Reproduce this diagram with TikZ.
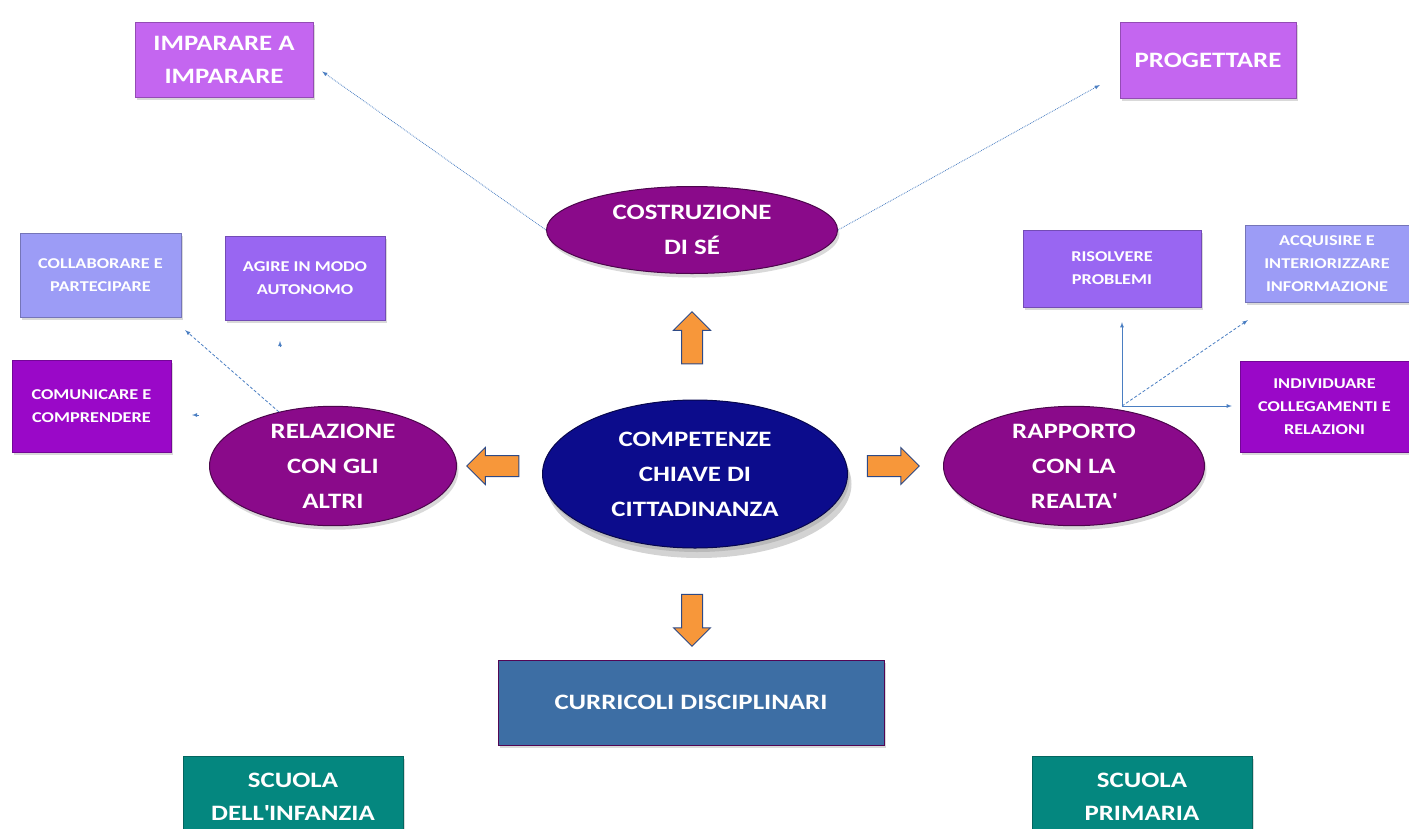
\documentclass[tikz,border=0pt]{standalone}
\usepackage{fontspec}
\setmainfont{Carlito}[FakeStretch=1.22]
\usetikzlibrary{shapes.geometric,shapes.arrows,shadows,arrows}
\definecolor{lilla}{HTML}{C466F0}
\definecolor{pervinca}{HTML}{9C9CF6}
\definecolor{viola}{HTML}{9966F2}
\definecolor{porpora}{HTML}{9A08C8}
\definecolor{prugna}{HTML}{8A0A8A}
\definecolor{notte}{HTML}{0C0C8C}
\definecolor{acciaio}{HTML}{3D6EA4}
\definecolor{petrolio}{HTML}{04877F}
\definecolor{arancio}{HTML}{F7973A}
\definecolor{bordofreccia}{HTML}{2E4A86}
\definecolor{linea}{HTML}{4A7EC2}
\begin{document}
\begin{tikzpicture}[x=1pt,y=-1pt,
	every node/.style={inner sep=0pt},
	card/.style={rectangle, draw=#1!75!black, fill=#1, text=white, align=center,
		drop shadow={opacity=0.3,shadow xshift=2pt,shadow yshift=-3pt}},
	oval/.style={ellipse, draw=#1!55!black, line width=1pt, fill=#1, text=white, align=center,
		font=\bfseries\fontsize{22}{35}\selectfont,
		drop shadow={opacity=0.3,shadow xshift=2pt,shadow yshift=-4pt}},
	bigtxt/.style={font=\bfseries\fontsize{22}{33}\selectfont},
	smalltxt/.style={font=\bfseries\fontsize{15}{23}\selectfont},
	blockarrow/.style={single arrow, draw=bordofreccia, fill=arancio, line width=1pt,
		inner sep=10pt, minimum height=52pt, minimum width=37pt, single arrow head extend=8pt,
		single arrow head indent=0pt, shape border rotate=#1},
	link/.style={draw=linea, line width=0.8pt, -latex}]
	\useasboundingbox (0,0) rectangle (1409,828);
	% top row
	\node[card=lilla, bigtxt, minimum width=178pt, minimum height=75pt] (imparare) at (224,59.5) {IMPARARE A\\IMPARARE};
	\node[card=lilla, bigtxt, minimum width=176pt, minimum height=76pt] (progettare) at (1208,60) {PROGETTARE};
	\node[oval=prugna, minimum width=291pt, minimum height=87pt] (costruzione) at (692,230) {COSTRUZIONE\\DI SÉ};
	% left group
	\node[card=pervinca, smalltxt, minimum width=161pt, minimum height=84pt] (collaborare) at (100.5,275) {COLLABORARE E\\PARTECIPARE};
	\node[card=viola, smalltxt, minimum width=160pt, minimum height=84pt] (agire) at (305,278) {AGIRE IN MODO\\AUTONOMO};
	\node[card=porpora, smalltxt, minimum width=159pt, minimum height=92pt] (comunicare) at (91.5,406) {COMUNICARE E\\COMPRENDERE};
	\node[oval=prugna, minimum width=247pt, minimum height=110pt] (relazione) at (333,466) {RELAZIONE\\CON GLI\\ALTRI};
	% right group
	\node[card=viola, smalltxt, minimum width=178pt, minimum height=77pt] (risolvere) at (1112,268.5) {RISOLVERE\\PROBLEMI};
	\node[card=pervinca, smalltxt, minimum width=164pt, minimum height=77pt] (acquisire) at (1327,263.5) {ACQUISIRE E\\INTERIORIZZARE\\INFORMAZIONE};
	\node[card=porpora, smalltxt, minimum width=169pt, minimum height=91pt] (individuare) at (1324.5,406.5) {INDIVIDUARE\\COLLEGAMENTI E\\RELAZIONI};
	\node[oval=prugna, minimum width=261pt, minimum height=110pt] (rapporto) at (1074,466) {RAPPORTO\\CON LA\\REALTA\textquotesingle};
	% centre
	\node[oval=notte, minimum width=305pt, minimum height=148pt,
		drop shadow={opacity=0.35,shadow xshift=4pt,shadow yshift=-10pt}] (competenze) at (695,474) {COMPETENZE\\CHIAVE DI\\CITTADINANZA};
	\node[blockarrow=90] (frecciaSu) at (692,343) {};
	\node[blockarrow=180] (frecciaSx) at (498,466) {};
	\node[blockarrow=0] (frecciaDx) at (888,466) {};
	\node[blockarrow=270] (frecciaGiu) at (692,615) {};
	% bottom
	\node[card=acciaio, bigtxt, draw=prugna!60!black, line width=1pt, minimum width=386pt, minimum height=85pt] (curricoli) at (691,702.5) {CURRICOLI DISCIPLINARI};
	\node[card=petrolio, bigtxt, minimum width=220pt, minimum height=82pt] (infanzia) at (293,797) {SCUOLA\\DELL\textquotesingle INFANZIA};
	\node[card=petrolio, bigtxt, minimum width=220pt, minimum height=82pt] (primaria) at (1142,797) {SCUOLA\\PRIMARIA};
	% connectors
	\draw[link, densely dotted] (costruzione.west) -- ([xshift=9pt,yshift=-12pt]imparare.east);
	\draw[link, densely dotted] (costruzione.east) -- ([xshift=-20pt,yshift=-25pt]progettare.west);
	\draw[link, densely dashed] (relazione.135) -- ([xshift=4pt,yshift=-13pt]collaborare.south east);
	\coordinate (stubAgire) at (280,347);
	\coordinate (stubComunicare) at (199,415);
	\draw[link] (stubAgire) -- ++(0,-6);
	\draw[link] (stubComunicare) -- ++(-7,0);
	\coordinate (hub) at (1122,406);
	\draw[link] (hub) -- ([yshift=-15pt]hub |- risolvere.south);
	\draw[link] (hub) -- ([xshift=-8pt]hub -| individuare.west);
	\draw[link, densely dashed] (hub) -- ([xshift=3pt,yshift=-18pt]acquisire.south west);
\end{tikzpicture}
\end{document}
